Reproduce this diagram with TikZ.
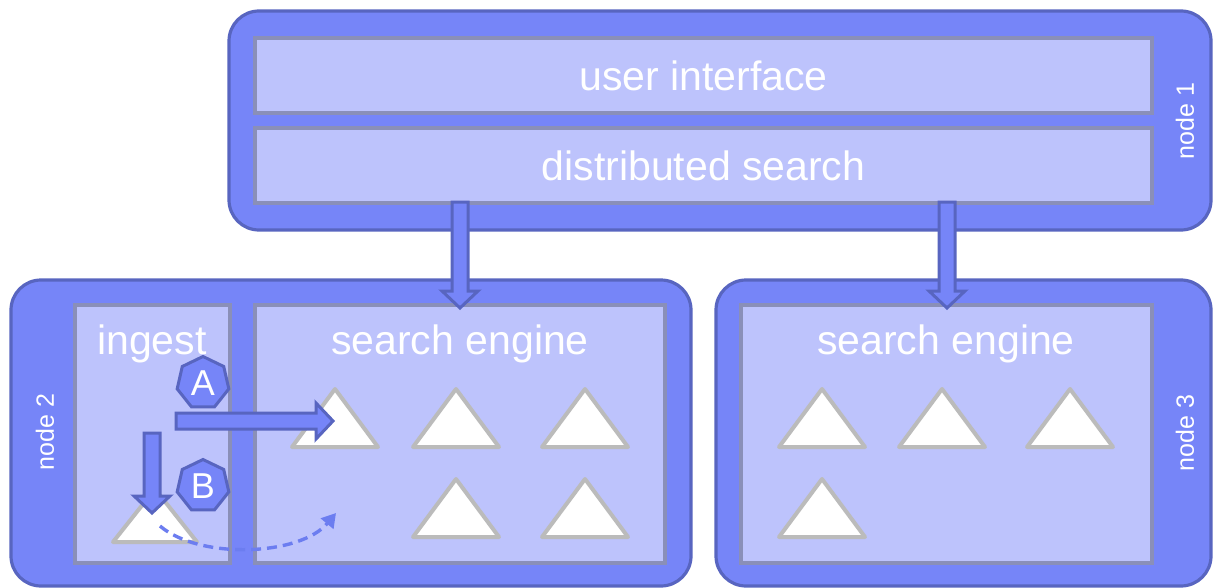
\documentclass[tikz,border=0pt]{standalone}
\usepackage{fontspec}
\setmainfont{Liberation Sans}
\usetikzlibrary{calc,shapes.geometric,arrows.meta}
\definecolor{outerfill}{HTML}{7685F8}
\definecolor{outerline}{HTML}{5865C0}
\definecolor{innerfill}{HTML}{BDC3FC}
\definecolor{innerline}{HTML}{8A8FB8}
\definecolor{triline}{HTML}{BBBBBB}
\definecolor{dashcol}{HTML}{6C7DF0}
\newcommand\hollowdown[2]{\draw[harr] ($(#1)+(-8,0)$) -- ($(#2)+(-8,-17)$) -- ($(#2)+(-18,-17)$) -- (#2) -- ($(#2)+(18,-17)$) -- ($(#2)+(8,-17)$) -- ($(#1)+(8,0)$) -- cycle;}
\newcommand\hollowright[2]{\draw[harr] ($(#1)+(0,-8)$) -- ($(#2)+(-17,-8)$) -- ($(#2)+(-17,-18)$) -- (#2) -- ($(#2)+(-17,18)$) -- ($(#2)+(-17,8)$) -- ($(#1)+(0,8)$) -- cycle;}
\begin{document}
\begin{tikzpicture}[x=1pt,y=-1pt,
 outerbox/.style={fill=outerfill,draw=outerline,line width=3.2pt,rounded corners=30pt},
 innerbox/.style={fill=innerfill,draw=innerline,line width=3.5pt,inner sep=0pt},
 bigtext/.style={text=white,font=\fontsize{41}{49}\selectfont},
 nodelabel/.style={text=white,font=\fontsize{25}{30}\selectfont,rotate=90},
 harr/.style={fill=outerfill,draw=outerline,line width=3pt,line join=miter},
 hepta/.style={regular polygon,regular polygon sides=7,minimum size=53pt,inner sep=0pt,fill=outerfill,draw=outerline,line width=3pt,text=white,font=\fontsize{36}{40}\selectfont},
 dasharc/.style={draw=dashcol,line width=3.4pt,dash pattern=on 10pt off 6pt,-{Triangle[length=14pt,width=16pt]}},
 tri/.pic={\draw[fill=white,draw=triline,line width=4pt,line join=round] (-43,0) -- (0,-58) -- (43,0) -- cycle; \coordinate (-c) at (0,-22);},
 trismall/.pic={\draw[fill=white,draw=triline,line width=4pt,line join=round] (-42,0) -- (0,-53) -- (42,0) -- cycle; \coordinate (-c) at (0,-22);}
]
\useasboundingbox (0,0) rectangle (1214,588);
% outer boxes
\draw[outerbox] (229,11) rectangle (1211,230);
\draw[outerbox] (11,280) rectangle (691,586);
\draw[outerbox] (716,280) rectangle (1211,586);
% inner boxes
\node[innerbox,minimum width=897pt,minimum height=75pt,bigtext] (ui) at (703.5,75.5) {user interface};
\node[innerbox,minimum width=897pt,minimum height=75pt,bigtext] (ds) at (703.5,165.5) {distributed search};
\node[innerbox,minimum width=155pt,minimum height=258pt] (ing) at (152.5,434) {};
\node[innerbox,minimum width=410pt,minimum height=258pt] (se2) at (460,434) {};
\node[innerbox,minimum width=411pt,minimum height=258pt] (se3) at (946.5,434) {};
% texts
\node[bigtext,anchor=base] (ingt) at (152,354) {ingest};
\node[bigtext,anchor=base] (se2t) at (460,354) {search engine};
\node[bigtext,anchor=base] (se3t) at (946,354) {search engine};
\node[nodelabel] (n1) at (1185,121) {node 1};
\node[nodelabel] (n2) at (45,432) {node 2};
\node[nodelabel] (n3) at (1185,433) {node 3};
% triangles
\pic (t1) at (335,447) {tri};
\pic (t2) at (456,447) {tri};
\pic (t3) at (585,447) {tri};
\pic (t4) at (456,537) {tri};
\pic (t5) at (585,537) {tri};
\pic (t6) at (822,447) {tri};
\pic (t7) at (942,447) {tri};
\pic (t8) at (1070,447) {tri};
\pic (t9) at (822,537) {tri};
\pic (t0) at (155,542) {trismall};
% hollow arrows
\coordinate (d1s) at (460,202);
\coordinate (d1t) at (460,308);
\coordinate (d2s) at (947,202);
\coordinate (d2t) at (947,308);
\hollowdown{d1s}{d1t}
\hollowdown{d2s}{d2t}
\coordinate (as) at (176,421);
\coordinate (at) at (333,421);
\hollowright{as}{at}
\coordinate (bs) at (152,433);
\coordinate (bt) at (152,513);
\hollowdown{bs}{bt}
% heptagons
\node[hepta] (ha) at (203,383) {A};
\node[hepta] (hb) at (203,486) {B};
% dashed arc
\coordinate (arcs) at (160,526);
\coordinate (arct) at (336,513);
\draw[dasharc] (arcs) .. controls (200,560) and (300,556) .. (arct);
\end{tikzpicture}
\end{document}
